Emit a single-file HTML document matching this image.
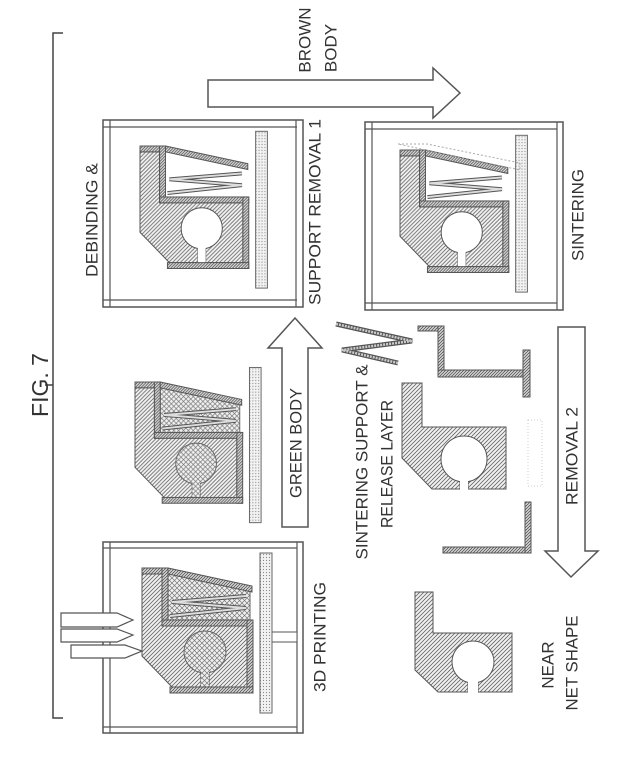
<!DOCTYPE html>
<html><head><meta charset="utf-8"><style>
html,body{margin:0;padding:0;background:#fff;}
svg{display:block;}
text{font-family:"Liberation Sans",sans-serif;fill:#333;}
</style></head><body>
<svg width="643" height="759" viewBox="0 0 643 759" xmlns="http://www.w3.org/2000/svg">
<defs>
<pattern id="h" patternUnits="userSpaceOnUse" width="4" height="4">
<rect width="4" height="4" fill="#f2f2f2"/>
<path d="M-1,1 l2,-2 M0,4 l4,-4 M3,5 l2,-2" stroke="#666" stroke-width="0.8"/>
</pattern>
<pattern id="hs" patternUnits="userSpaceOnUse" width="3" height="3">
<rect width="3" height="3" fill="#ddd"/>
<path d="M-1,1 l2,-2 M0,3 l3,-3 M2,4 l2,-2" stroke="#555" stroke-width="0.8"/>
</pattern>
<pattern id="x" patternUnits="userSpaceOnUse" width="5" height="5">
<rect width="5" height="5" fill="#f0f0f0"/>
<path d="M0,0 L5,5 M5,0 L0,5" stroke="#777" stroke-width="0.7"/>
</pattern>
<pattern id="d" patternUnits="userSpaceOnUse" width="3" height="3">
<rect width="3" height="3" fill="#f2f2f2"/>
<circle cx="1.5" cy="1.5" r="0.6" fill="#888"/>
</pattern>
<g id="shell">
<rect x="0" y="0" width="26" height="6" fill="url(#hs)" stroke="#555"/>
<rect x="20" y="0" width="6" height="58" fill="url(#hs)" stroke="#555"/>
<rect x="20" y="52" width="91" height="6" fill="url(#hs)" stroke="#555"/>
<rect x="105" y="52" width="6" height="73" fill="url(#hs)" stroke="#555"/>
<rect x="28" y="119" width="83" height="6" fill="url(#hs)" stroke="#555"/>
<polygon points="26,0 110,18 110,24 26,6" fill="url(#hs)" stroke="#555"/>
<rect x="118" y="-15" width="12" height="160" fill="url(#d)" stroke="#666"/>
</g>
<path id="bodyp" d="M0,6 L20,6 L20,58 L105,58 L105,119 L67,119 L67,104 L59,104 L59,119 L30,119 L0,88 Z"/>
<g id="truss" fill="none">
<path d="M28,48 L104,40 L30,34 L104,28" stroke="#555" stroke-width="4"/>
<path d="M28,48 L104,40 L30,34 L104,28" stroke="#ddd" stroke-width="2"/>
</g>
<g id="green">
<polygon points="26,4 108,22 108,52 26,52" fill="url(#x)" stroke="#666"/>
<use href="#bodyp" fill="url(#h)" stroke="#555"/>
<circle cx="63" cy="84" r="21" fill="url(#x)" stroke="#666"/>
<rect x="59" y="103" width="8" height="16" fill="url(#x)"/>
<use href="#truss"/>
<use href="#shell"/>
</g>
<g id="brown">
<polygon points="26,4 108,22 108,52 26,52" fill="#fff"/>
<use href="#bodyp" fill="url(#h)" stroke="#555"/>
<circle cx="63" cy="84" r="21" fill="#fff" stroke="#555"/>
<rect x="59" y="103" width="8" height="17" fill="#fff"/>
<use href="#truss"/>
<use href="#shell"/>
</g>
</defs>

<path d="M63,33 H53 V718 H63 M53,385 H45" fill="none" stroke="#444" stroke-width="1.5"/>
<text transform="translate(40,385) rotate(-90)" text-anchor="middle" dominant-baseline="central" font-size="23">FIG. 7</text>

<rect x="103" y="542" width="200" height="191" fill="none" stroke="#555" stroke-width="1.5"/>
<path d="M103,548 H297 M103,727 H297 M297,542 V733 M110,542 V733" fill="none" stroke="#555" stroke-width="1.2"/>
<rect x="272" y="632" width="25" height="10" fill="#fff" stroke="#555"/>
<g fill="#fff" stroke="#555" stroke-width="1.2">
<polygon points="61,613 117,613 133,620 117,627 61,627"/>
<polygon points="61,629 117,629 133,635 117,642 61,642"/>
<polygon points="71,645 125,645 142,651 125,658 71,658"/>
</g>
<g transform="translate(142,568)"><use href="#green"/></g>
<text transform="translate(320,637) rotate(-90)" text-anchor="middle" dominant-baseline="central" font-size="17" textLength="110" lengthAdjust="spacingAndGlyphs">3D PRINTING</text>

<g transform="translate(135,382) scale(0.97)"><use href="#green"/></g>
<polygon points="282,527 308,527 308,348 322,348 295,318 268,348 282,348" fill="#fff" stroke="#555" stroke-width="1.5"/>
<text transform="translate(296,443) rotate(-90)" text-anchor="middle" dominant-baseline="central" font-size="17" textLength="110" lengthAdjust="spacingAndGlyphs">GREEN BODY</text>

<rect x="103" y="120" width="200" height="187" fill="none" stroke="#555" stroke-width="1.5"/>
<path d="M103,127 H297 M103,300 H297 M296,120 V307 M110,120 V307" fill="none" stroke="#555" stroke-width="1.2"/>
<g transform="translate(140,146) scale(0.98)"><use href="#brown"/></g>
<text transform="translate(92,220) rotate(-90)" text-anchor="middle" dominant-baseline="central" font-size="17" textLength="114" lengthAdjust="spacingAndGlyphs">DEBINDING &amp;</text>
<text transform="translate(315,212) rotate(-90)" text-anchor="middle" dominant-baseline="central" font-size="17" textLength="186" lengthAdjust="spacingAndGlyphs">SUPPORT REMOVAL 1</text>

<polygon points="208,80 433,80 433,68 460,93 433,118 433,107 208,107" fill="#fff" stroke="#555" stroke-width="1.5"/>
<text transform="translate(305,40) rotate(-90)" text-anchor="middle" dominant-baseline="central" font-size="17">BROWN</text>
<text transform="translate(331,48) rotate(-90)" text-anchor="middle" dominant-baseline="central" font-size="17">BODY</text>

<rect x="365" y="122" width="198" height="188" fill="none" stroke="#555" stroke-width="1.5"/>
<path d="M365,129 H557 M365,303 H557 M557,122 V310 M372,122 V310" fill="none" stroke="#555" stroke-width="1.2"/>
<g transform="translate(400,150) scale(0.98)"><use href="#brown"/></g>
<polygon points="398,144 427,144 520,163 520,170" fill="none" stroke="#aaa" stroke-dasharray="2,2"/>
<text transform="translate(578,215) rotate(-90)" text-anchor="middle" dominant-baseline="central" font-size="17" textLength="92" lengthAdjust="spacingAndGlyphs">SINTERING</text>

<path d="M336,324 L412,341 L342,350 L398,363" fill="none" stroke="#555" stroke-width="5"/>
<path d="M336,324 L412,341 L342,350 L398,363" fill="none" stroke="#ccc" stroke-width="2.5" stroke-dasharray="2,1"/>
<g fill="url(#hs)" stroke="#555">
<rect x="418" y="326" width="25" height="5"/>
<rect x="438" y="326" width="6" height="51"/>
<rect x="438" y="370" width="90" height="7"/>
<rect x="523" y="350" width="7" height="47"/>
<rect x="443" y="547" width="87" height="6"/>
<rect x="525" y="502" width="6" height="51"/>
</g>
<path d="M402,383 L422,383 L422,427 L506,427 L506,489 L468,489 L468,478 L460,478 L460,489 L432,489 L402,458 Z" fill="url(#h)" stroke="#555"/>
<circle cx="464" cy="459" r="23" fill="#fff" stroke="#555"/>
<rect x="460" y="478" width="8" height="12" fill="#fff"/>
<rect x="528" y="420" width="14" height="66" fill="none" stroke="#ccc" stroke-dasharray="1,2"/>
<text transform="translate(362,462) rotate(-90)" text-anchor="middle" dominant-baseline="central" font-size="17" textLength="195" lengthAdjust="spacingAndGlyphs">SINTERING SUPPORT &amp;</text>
<text transform="translate(387,464) rotate(-90)" text-anchor="middle" dominant-baseline="central" font-size="17" textLength="128" lengthAdjust="spacingAndGlyphs">RELEASE LAYER</text>

<polygon points="558,327 585,327 585,551 598,551 571,577 545,551 558,551" fill="#fff" stroke="#555" stroke-width="1.5"/>
<text transform="translate(572,456) rotate(-90)" text-anchor="middle" dominant-baseline="central" font-size="17" textLength="98" lengthAdjust="spacingAndGlyphs">REMOVAL 2</text>

<path d="M415,592 L433,592 L433,633 L512,633 L512,692 L478,692 L478,680 L468,680 L468,692 L438,692 L415,670 Z" fill="url(#h)" stroke="#555"/>
<circle cx="473" cy="662" r="21" fill="#fff" stroke="#555"/>
<rect x="468" y="680" width="10" height="13" fill="#fff"/>
<text transform="translate(548,665) rotate(-90)" text-anchor="middle" dominant-baseline="central" font-size="17">NEAR</text>
<text transform="translate(572,663) rotate(-90)" text-anchor="middle" dominant-baseline="central" font-size="17" textLength="95" lengthAdjust="spacingAndGlyphs">NET SHAPE</text>
</svg>
</body></html>
